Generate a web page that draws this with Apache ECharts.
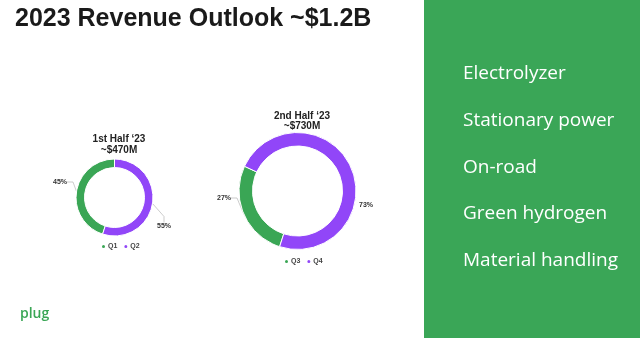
<!DOCTYPE html>
<html><head><meta charset="utf-8">
<script src="https://cdn.jsdelivr.net/npm/echarts@6/dist/echarts.min.js"></script>
<style>html,body{margin:0;padding:0;background:#fff}#c{width:640px;height:338px}</style>
</head><body><div id="c"></div>
<script>
const pageTitle = "2023 Revenue Outlook ~$1.2B";
const h1Title = ["1st Half \u201823", "~$470M"];
const h1Categories = ["Q1", "Q2"];
const h1Values = [45, 55];
const h2Title = ["2nd Half \u201823", "~$730M"];
const h2Categories = ["Q3", "Q4"];
const h2Values = [27, 73];
const segments = ["Electrolyzer", "Stationary power", "On-road", "Green hydrogen", "Material handling"];

const GREEN = "#3aa655", PURPLE = "#9146f8", PANEL = "#3aa657";
const COLORS = [GREEN, PURPLE];
const chart = echarts.init(document.getElementById('c'), null, {renderer: 'canvas'});

// label anchor positions (layout only)
const labelPos = {
  0: [{x: 67, y: 182, align: 'right'}, {x: 157, y: 226, align: 'left'}],
  1: [{x: 231, y: 198, align: 'right'}, {x: 359, y: 205, align: 'left'}]
};
const hideLine = {1: {1: true}};

function pie(id, idx, cats, vals, center, radius, startAngle) {
  return {
    type: 'pie', id: id, center: center, radius: radius,
    clockwise: false, startAngle: startAngle, avoidLabelOverlap: false,
    itemStyle: {borderColor: '#fff', borderWidth: 1},
    label: {show: true, formatter: '{c}%', fontSize: 7, fontWeight: 'bold', color: '#333', fontFamily: 'Liberation Sans'},
    labelLine: {show: true, length: 6, length2: 6, lineStyle: {color: '#aaa', width: 0.6}},
    labelLayout: function (p) {
      const lp = labelPos[p.seriesIndex][p.dataIndex];
      return {x: lp.x, y: lp.y, align: lp.align, verticalAlign: 'middle'};
    },
    emphasis: {disabled: true},
    data: cats.map((c, i) => {
      const d = {name: c, value: vals[i], itemStyle: {color: COLORS[i]}};
      if (hideLine[idx] && hideLine[idx][i]) d.labelLine = {show: false};
      return d;
    })
  };
}

const graphic = [
  {type: 'rect', left: 424, top: 0, shape: {width: 216, height: 338}, style: {fill: PANEL}, z: 0},
  {type: 'text', left: 15, top: 7, style: {text: pageTitle, font: 'bold 25px "Liberation Sans"', fill: '#1a1a1a'}},
  {type: 'text', left: 20, top: 307, style: {text: 'plug', font: '600 14px "Open Sans"', fill: '#3aa655'}}
];
segments.forEach((s, i) => {
  graphic.push({type: 'text', left: 463, top: 64 + i * 46.8, style: {text: s, font: '19px "Open Sans"', fill: '#fff'}});
});

const legendText = {fontSize: 7, color: '#444', fontWeight: 'bold', padding: [0, 0, 0, -3]};
chart.setOption({
  animation: false,
  title: [
    {text: h1Title.join('\n'), left: 114, top: 129, textAlign: 'center', textStyle: {fontSize: 10, fontWeight: 'bold', lineHeight: 11, color: '#222', fontFamily: 'Liberation Sans'}},
    {text: h2Title.join('\n'), left: 297, top: 106, textAlign: 'center', textStyle: {fontSize: 10, fontWeight: 'bold', lineHeight: 10, color: '#222', fontFamily: 'Liberation Sans'}}
  ],
  legend: [
    {data: h1Categories.map((c, i) => ({name: c, itemStyle: {color: COLORS[i]}})), left: 100, top: 243, padding: 0, itemWidth: 5, itemHeight: 5, icon: 'circle', itemGap: 5, textStyle: legendText},
    {data: h2Categories.map((c, i) => ({name: c, itemStyle: {color: COLORS[i]}})), left: 283, top: 258, padding: 0, itemWidth: 5, itemHeight: 5, icon: 'circle', itemGap: 5, textStyle: legendText}
  ],
  graphic: graphic,
  series: [
    pie('h1', 0, h1Categories, h1Values, [114.5, 197.5], [30, 38.5], 90),
    pie('h2', 1, h2Categories, h2Values, [297.5, 191], [45, 58.5], 155)
  ]
});
</script></body></html>
